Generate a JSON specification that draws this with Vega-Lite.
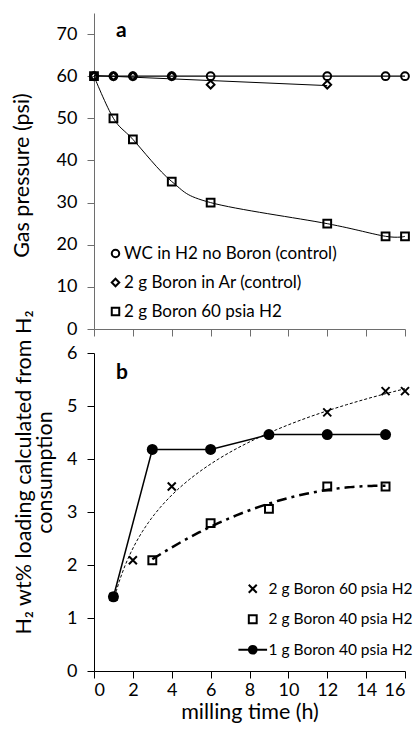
{
  "$schema": "https://vega.github.io/schema/vega-lite/v6.json",
  "padding": {"left": 11, "top": 13, "right": 0, "bottom": 4},
  "bounds": "flush",
  "spacing": 24,
  "resolve": {
    "scale": {"shape": "independent", "fill": "independent", "size": "independent"},
    "legend": {"shape": "independent", "fill": "independent", "size": "independent"}
  },
  "config": {
    "font": "Lato",
    "view": {"stroke": null},
    "axis": {
      "grid": false,
      "labelFont": "Lato",
      "labelFontSize": 18,
      "labelColor": "#000000",
      "titleFont": "Lato",
      "titleFontSize": 21.5,
      "titleFontWeight": "normal",
      "titleColor": "#000000",
      "tickSize": 7,
      "labelPadding": 10
    },
    "legend": {
      "labelFont": "Lato",
      "labelFontSize": 16,
      "labelColor": "#000000",
      "labelLimit": 0
    },
    "title": {
      "font": "Lato",
      "fontSize": 21,
      "fontWeight": "bold",
      "color": "#000000",
      "anchor": "start",
      "frame": "group",
      "baseline": "middle"
    }
  },
  "vconcat": [
    {
      "width": 311,
      "height": 316,
      "title": {"text": "a", "dx": 22, "offset": -28},
      "data": {
        "values": [
          {"series": "WC in H2 no Boron (control)", "t": 0, "p": 60},
          {"series": "WC in H2 no Boron (control)", "t": 1, "p": 60},
          {"series": "WC in H2 no Boron (control)", "t": 2, "p": 60},
          {"series": "WC in H2 no Boron (control)", "t": 4, "p": 60},
          {"series": "WC in H2 no Boron (control)", "t": 6, "p": 60},
          {"series": "WC in H2 no Boron (control)", "t": 12, "p": 60},
          {"series": "WC in H2 no Boron (control)", "t": 15, "p": 60},
          {"series": "WC in H2 no Boron (control)", "t": 16, "p": 60},
          {"series": "2 g Boron in Ar (control)", "t": 0, "p": 60},
          {"series": "2 g Boron in Ar (control)", "t": 1, "p": 60},
          {"series": "2 g Boron in Ar (control)", "t": 2, "p": 60},
          {"series": "2 g Boron in Ar (control)", "t": 4, "p": 60},
          {"series": "2 g Boron in Ar (control)", "t": 6, "p": 58},
          {"series": "2 g Boron in Ar (control)", "t": 12, "p": 58},
          {"series": "2 g Boron 60 psia H2", "t": 0, "p": 60},
          {"series": "2 g Boron 60 psia H2", "t": 1, "p": 50},
          {"series": "2 g Boron 60 psia H2", "t": 2, "p": 45},
          {"series": "2 g Boron 60 psia H2", "t": 4, "p": 35},
          {"series": "2 g Boron 60 psia H2", "t": 6, "p": 30},
          {"series": "2 g Boron 60 psia H2", "t": 12, "p": 25},
          {"series": "2 g Boron 60 psia H2", "t": 15, "p": 22},
          {"series": "2 g Boron 60 psia H2", "t": 16, "p": 22}
        ]
      },
      "encoding": {
        "x": {
          "field": "t",
          "type": "quantitative",
          "scale": {"domain": [0, 16], "nice": false},
          "axis": {
            "values": [0, 2, 4, 6, 8, 10, 12, 14, 16],
            "labels": false,
            "title": null,
            "domainColor": "#6e6e6e",
            "tickColor": "#6e6e6e"
          }
        },
        "y": {
          "field": "p",
          "type": "quantitative",
          "scale": {"domain": [0, 75], "nice": false},
          "axis": {
            "values": [0, 10, 20, 30, 40, 50, 60, 70],
            "title": "Gas pressure (psi)",
            "titleX": -72,
            "titleY": 162,
            "titleBaseline": "middle",
            "titleAlign": "center",
            "titleAngle": -90,
            "domainColor": "#6e6e6e",
            "tickColor": "#6e6e6e"
          }
        }
      },
      "layer": [
        {
          "transform": [{"filter": "datum.series === 'WC in H2 no Boron (control)'"}],
          "mark": {"type": "line", "color": "#000000", "strokeWidth": 1.2}
        },
        {
          "transform": [
            {"filter": "datum.series === '2 g Boron in Ar (control)'"},
            {"regression": "p", "on": "t"}
          ],
          "mark": {"type": "line", "color": "#000000", "strokeWidth": 1}
        },
        {
          "transform": [{"filter": "datum.series === '2 g Boron 60 psia H2'"}],
          "mark": {"type": "line", "color": "#000000", "strokeWidth": 1, "interpolate": "cardinal"}
        },
        {
          "mark": {"type": "point", "filled": false, "color": "#000000", "strokeWidth": 2, "size": 60, "opacity": 1},
          "encoding": {
            "shape": {
              "field": "series",
              "type": "nominal",
              "scale": {
                "domain": ["WC in H2 no Boron (control)", "2 g Boron in Ar (control)", "2 g Boron 60 psia H2"],
                "range": ["circle", "diamond", "square"]
              },
              "legend": {
                "orient": "none",
                "legendX": 13,
                "legendY": 232,
                "title": null,
                "padding": 0,
                "labelFontSize": 17,
                "symbolSize": 56,
                "symbolStrokeWidth": 2,
                "rowPadding": 11,
                "labelOffset": 0
              }
            }
          }
        }
      ]
    },
    {
      "width": 311,
      "height": 318,
      "title": {"text": "b", "dx": 22, "offset": -73},
      "data": {
        "values": [
          {"series": "2 g Boron 60 psia H2", "t": 1, "w": 1.4},
          {"series": "2 g Boron 60 psia H2", "t": 2, "w": 2.09},
          {"series": "2 g Boron 60 psia H2", "t": 4, "w": 3.48},
          {"series": "2 g Boron 60 psia H2", "t": 12, "w": 4.88},
          {"series": "2 g Boron 60 psia H2", "t": 15, "w": 5.28},
          {"series": "2 g Boron 60 psia H2", "t": 16, "w": 5.28},
          {"series": "2 g Boron 40 psia H2", "t": 3, "w": 2.09},
          {"series": "2 g Boron 40 psia H2", "t": 6, "w": 2.79},
          {"series": "2 g Boron 40 psia H2", "t": 9, "w": 3.06},
          {"series": "2 g Boron 40 psia H2", "t": 12, "w": 3.48},
          {"series": "2 g Boron 40 psia H2", "t": 15, "w": 3.48},
          {"series": "1 g Boron 40 psia H2", "t": 1, "w": 1.4},
          {"series": "1 g Boron 40 psia H2", "t": 3, "w": 4.18},
          {"series": "1 g Boron 40 psia H2", "t": 6, "w": 4.18},
          {"series": "1 g Boron 40 psia H2", "t": 9, "w": 4.46},
          {"series": "1 g Boron 40 psia H2", "t": 12, "w": 4.46},
          {"series": "1 g Boron 40 psia H2", "t": 15, "w": 4.46}
        ]
      },
      "encoding": {
        "x": {
          "field": "t",
          "type": "quantitative",
          "scale": {"domain": [0, 16], "nice": false},
          "axis": {
            "values": [0, 2, 4, 6, 8, 10, 12, 14, 16],
            "title": "milling time (h)",
            "titleFontSize": 21.5,
            "labelPadding": 3,
            "titlePadding": 2,
            "domainColor": "#000000",
            "tickColor": "#000000"
          }
        },
        "y": {
          "field": "w",
          "type": "quantitative",
          "scale": {"domain": [0, 6], "nice": false},
          "axis": {
            "values": [0, 1, 2, 3, 4, 5, 6],
            "title": ["H₂ wt% loading calculated from H₂", "consumption"],
            "titleX": -70,
            "titleY": 119,
            "titleBaseline": "middle",
            "titleAlign": "center",
            "titleAngle": -90,
            "titleLineHeight": 21.5,
            "domainColor": "#000000",
            "tickColor": "#000000"
          }
        }
      },
      "layer": [
        {
          "transform": [
            {"filter": "datum.series === '2 g Boron 60 psia H2'"},
            {"regression": "w", "on": "t", "method": "log"}
          ],
          "mark": {"type": "line", "color": "#000000", "strokeWidth": 1, "strokeDash": [3, 2]}
        },
        {
          "transform": [
            {"filter": "datum.series === '2 g Boron 40 psia H2'"},
            {"regression": "w", "on": "t", "method": "poly", "order": 2}
          ],
          "mark": {"type": "line", "color": "#000000", "strokeWidth": 2.5, "strokeDash": [10, 5, 3, 5]}
        },
        {
          "transform": [{"filter": "datum.series === '1 g Boron 40 psia H2'"}],
          "mark": {"type": "line", "color": "#000000", "strokeWidth": 1.5}
        },
        {
          "transform": [{"filter": "datum.series !== '1 g Boron 40 psia H2'"}],
          "mark": {"type": "point", "filled": true, "stroke": "#000000", "strokeWidth": 2, "opacity": 1},
          "encoding": {
            "shape": {
              "field": "series",
              "type": "nominal",
              "scale": {
                "domain": ["2 g Boron 60 psia H2", "2 g Boron 40 psia H2", "1 g Boron 40 psia H2"],
                "range": ["M-1,-1L1,1M-1,1L1,-1", "square", "M-3.7,0H-1M1,0H3.7M-1,0A1,1 0 1,1 1,0A1,1 0 1,1 -1,0Z"]
              },
              "legend": {
                "orient": "none",
                "legendX": 151,
                "legendY": 228,
                "title": null,
                "padding": 0,
                "labelFontSize": 15.5,
                "symbolStrokeWidth": 2,
                "rowPadding": 12.5,
                "labelOffset": 8
              }
            },
            "fill": {
              "field": "series",
              "type": "nominal",
              "scale": {
                "domain": ["2 g Boron 60 psia H2", "2 g Boron 40 psia H2", "1 g Boron 40 psia H2"],
                "range": ["transparent", "transparent", "#000000"]
              },
              "legend": {
                "orient": "none",
                "legendX": 151,
                "legendY": 228,
                "title": null,
                "padding": 0,
                "labelFontSize": 15.5,
                "symbolStrokeWidth": 2,
                "rowPadding": 12.5,
                "labelOffset": 8
              }
            },
            "size": {
              "field": "series",
              "type": "nominal",
              "scale": {
                "domain": ["2 g Boron 60 psia H2", "2 g Boron 40 psia H2", "1 g Boron 40 psia H2"],
                "range": [64, 60, 100]
              },
              "legend": {
                "orient": "none",
                "legendX": 151,
                "legendY": 228,
                "title": null,
                "padding": 0,
                "labelFontSize": 15.5,
                "symbolStrokeWidth": 2,
                "rowPadding": 12.5,
                "labelOffset": 8
              }
            }
          }
        },
        {
          "transform": [{"filter": "datum.series === '1 g Boron 40 psia H2'"}],
          "mark": {"type": "point", "shape": "circle", "filled": true, "color": "#000000", "size": 121, "opacity": 1}
        }
      ]
    }
  ]
}
